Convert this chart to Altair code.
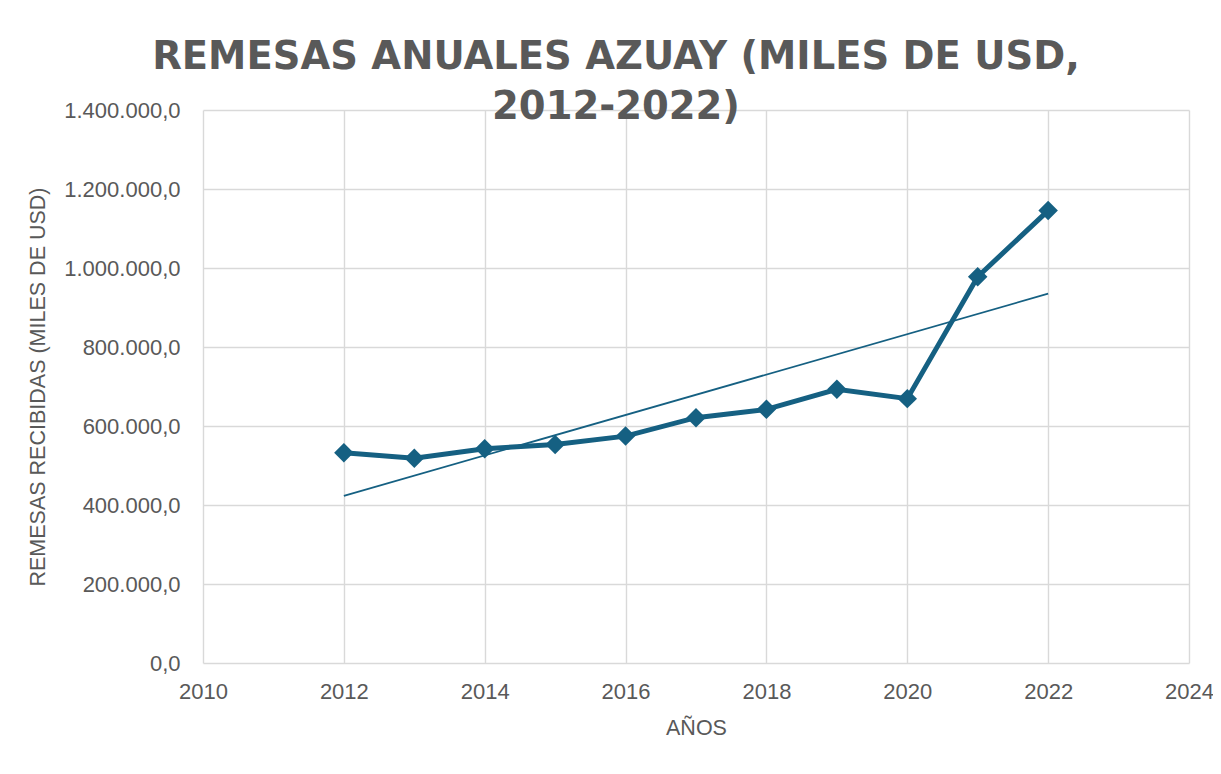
import altair as alt
import pandas as pd

years = [2012, 2013, 2014, 2015, 2016, 2017, 2018, 2019, 2020, 2021, 2022]
remesas = [532200, 518500, 542400, 553300, 574400, 621100, 642100, 692900, 669300, 977900, 1145400]

df = pd.DataFrame({"anio": years, "remesas": remesas})

COLOR = "#156082"
GREY = "#595959"

x = alt.X("anio:Q", title="AÑOS",
          scale=alt.Scale(domain=[2010, 2024], nice=False, zero=False),
          axis=alt.Axis(values=list(range(2010, 2025, 2)), format="d", labelFlush=False))
y = alt.Y("remesas:Q", title="REMESAS RECIBIDAS (MILES DE USD)",
          scale=alt.Scale(domain=[0, 1400000], nice=False),
          axis=alt.Axis(values=list(range(0, 1400001, 200000)), format=",.1f", labelFlush=False))

base = alt.Chart(df)

line = base.mark_line(color=COLOR, strokeWidth=5).encode(x=x, y=y)
pts = base.mark_point(shape="diamond", filled=True, opacity=1, color=COLOR, size=380).encode(x=x, y=y)
trend = base.transform_regression("anio", "remesas").mark_line(color=COLOR, strokeWidth=1.8).encode(x=x, y=y)

chart = alt.layer(trend, line, pts).properties(
    width=986, height=553,
    title=alt.TitleParams(
        text=["REMESAS ANUALES AZUAY (MILES DE USD,", "2012-2022)"],
        fontSize=38.5, font="DejaVu Sans", fontWeight="bold", color=GREY,
        anchor="middle", frame="group", dx=-80, lineHeight=50, offset=-28,
    ),
    autosize=alt.AutoSizeParams(type="none"),
    padding={"left": 195, "top": 102, "right": 24, "bottom": 103},
).configure_view(stroke=None).configure_axis(
    grid=True, gridColor="#d9d9d9", gridWidth=1.4,
    domain=False, ticks=False,
    labelFont="Liberation Sans", labelFontSize=22, labelColor=GREY,
    titleFont="Liberation Sans", titleFontSize=21.5, titleColor=GREY, titleFontWeight="normal",
).configure_axisX(labelPadding=18, titlePadding=15).configure_axisY(labelPadding=23, titlePadding=14)

chart.save("out.html", embed_options={"renderer": "svg", "actions": False,
                                      "formatLocale": {"decimal": ",", "thousands": ".", "grouping": [3], "currency": ["", " $"]}})
